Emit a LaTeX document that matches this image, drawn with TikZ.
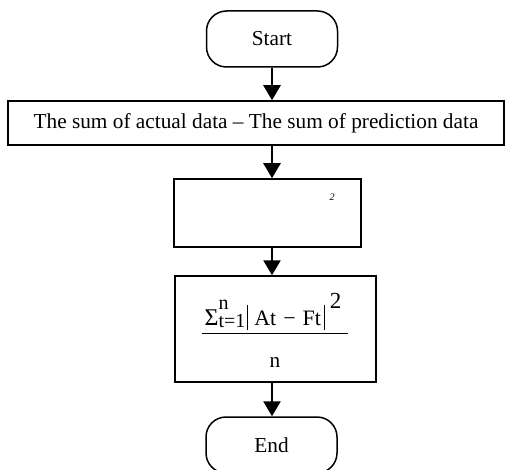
\documentclass[tikz,border=0pt]{standalone}
\usepackage{fontspec}
\setmainfont{Liberation Serif}
\usetikzlibrary{arrows.meta}
\newcommand{\fs}[1]{\fontsize{#1}{#1}\selectfont}
\newcommand{\absbar}{\rule[-5pt]{0.8pt}{25pt}}
\begin{document}
\begin{tikzpicture}[x=1pt,y=-1pt,
  every node/.style={font=\fontsize{21.3}{24}\selectfont, inner sep=0pt},
  term/.style={draw, line width=1.5pt, rounded corners=20pt, minimum width=131pt, minimum height=56pt},
  proc/.style={draw, line width=1.5pt},
  flow/.style={line width=2.6pt, -{Triangle[width=17pt,length=15pt]}}]
\useasboundingbox (0,0) rectangle (505,470);
\begin{scope}
\clip (0,0) rectangle (505,470);
\node[term] (start) at (272,39) {Start};
\node[proc, minimum width=496pt, minimum height=44pt] (sum) at (256,123) {The sum of actual data -- The sum of prediction data};
\node[proc, minimum width=187pt, minimum height=68pt] (sq) at (267.5,213) {};
\node[font=\fontsize{10}{10}\selectfont\itshape] (two) at (332,197) {2};
\node[proc, minimum width=201pt, minimum height=106pt] (mad) at (275.5,329) {};
\node[anchor=base] (num) at (273,325) {\fs{24}Σ\makebox[0pt][l]{\raisebox{16pt}{\fs{20}n}}\raisebox{-2pt}{\fs{20}t=1}\hspace{2pt}\absbar\hspace{6pt}\fs{22}At\hspace{7pt}−\hspace{7pt}Ft\hspace{3pt}\absbar\hspace{5pt}\raisebox{17pt}{\fs{23}2}};
\coordinate (fl) at (202,333);
\coordinate (fr) at (348,333);
\draw[line width=1pt] (fl) -- (fr);
\node (den) at (275,362) {n};
\node[term] (end) at (271.5,445) {End};
\draw[flow] (start.south) -- (start.south |- sum.north);
\draw[flow] (start.south |- sum.south) -- (start.south |- sq.north);
\draw[flow] (start.south |- sq.south) -- (start.south |- mad.north);
\draw[flow] (start.south |- mad.south) -- (start.south |- end.north);
\end{scope}
\end{tikzpicture}
\end{document}
